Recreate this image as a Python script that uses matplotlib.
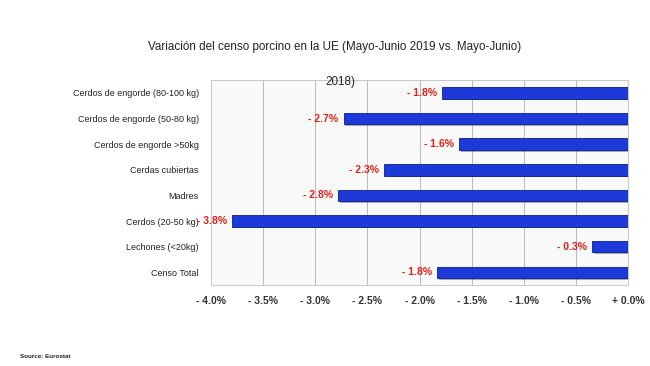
import matplotlib.pyplot as plt
import matplotlib.patheffects as pe

plt.rcParams.update({
    "font.family": ["Liberation Sans", "DejaVu Sans"],
})

categories = [
    "Cerdos de engorde (80-100 kg)",
    "Cerdos de engorde (50-80 kg)",
    "Cerdos de engorde >50kg",
    "Cerdas cubiertas",
    "Madres",
    "Cerdos (20-50 kg)",
    "Lechones (<20kg)",
    "Censo Total",
]
values = [-1.78, -2.73, -1.62, -2.34, -2.78, -3.80, -0.34, -1.83]
value_labels = ["- 1.8%", "- 2.7%", "- 1.6%", "- 2.3%", "- 2.8%", "- 3.8%", "- 0.3%", "- 1.8%"]
tick_values = [-4.0, -3.5, -3.0, -2.5, -2.0, -1.5, -1.0, -0.5, 0.0]
tick_labels = ["- 4.0%", "- 3.5%", "- 3.0%", "- 2.5%", "- 2.0%", "- 1.5%", "- 1.0%", "- 0.5%", "+ 0.0%"]

fig = plt.figure(figsize=(6.5, 3.66), dpi=100)
ax = fig.add_axes([0.325, 0.221, 0.641, 0.56])
ax.set_facecolor("#f9f9f9")

ypos = list(range(len(categories)))
ax.barh(ypos, values, height=0.45, color="#1d3ad8", edgecolor="#0b1f8c",
        linewidth=0.6, zorder=3,
        path_effects=[pe.SimplePatchShadow(offset=(1, -1.2), alpha=0.35),
                      pe.Normal()])

for y, v, lab in zip(ypos, values, value_labels):
    ax.text(v - 0.05, y, lab, ha="right", va="center", color="#e0201b",
            fontsize=7.5, fontweight="bold", zorder=4)

ax.set_xlim(-4.0, 0.0)
ax.set_ylim(len(categories) - 0.5, -0.5)
ax.set_xticks(tick_values)
ax.set_xticklabels(tick_labels, fontsize=7.5, fontweight="bold", color="#333333")
ax.set_yticks(ypos)
ax.set_yticklabels(categories, fontsize=6.5, color="#222222")
ax.tick_params(axis="both", length=0)
ax.tick_params(axis="x", pad=8)
ax.tick_params(axis="y", pad=9)
ax.grid(axis="x", color="#b8b8b8", linewidth=0.7, zorder=0)

for s in ax.spines.values():
    s.set_color("#c8c8c8")
    s.set_linewidth(0.7)

fig.text(0.515, 0.872, "Variación del censo porcino en la UE (Mayo-Junio 2019 vs. Mayo-Junio)",
         ha="center", va="center", fontsize=8.4, color="#222222")
fig.text(0.523, 0.775, "2018)", ha="center", va="center", fontsize=8.4, color="#222222")
fig.text(0.03, 0.025, "Source: Eurostat", ha="left", va="center", fontsize=4.5,
         fontweight="bold", color="#222222")

fig.savefig("out.png", dpi=100)
